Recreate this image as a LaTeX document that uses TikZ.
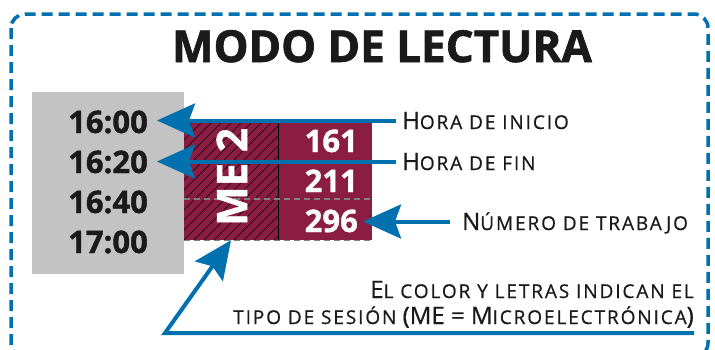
\documentclass[tikz,border=0pt]{standalone}
\usepackage{fontspec}
\setmainfont{Open Sans}
\usetikzlibrary{arrows.meta}
\definecolor{azul}{RGB}{0,112,174}
\definecolor{granate}{RGB}{139,28,66}
\definecolor{gris}{RGB}{195,195,195}
\definecolor{tinta}{RGB}{26,26,26}
\newcommand\pc[1]{{\fontsize{19pt}{19pt}\selectfont\addfontfeature{LetterSpace=10}#1}}
\begin{document}
\begin{tikzpicture}[x=1pt,y=-1pt,
  flecha/.style={draw=azul,line width=4pt,-{Stealth[length=38pt,width=34pt,inset=6pt]}},
  hora/.style={anchor=base east,font=\fontsize{31pt}{31pt}\selectfont\bfseries\addfontfeature{FakeBold=1.2},
    text=tinta,inner xsep=9pt,inner ysep=0pt,text height=22pt,text depth=0pt},
  numero/.style={hora,inner xsep=5pt,text=white},
  rotulo/.style={font=\fontsize{24pt}{24pt}\selectfont\addfontfeature{FakeBold=0.7},text=tinta,
    inner sep=0pt,text height=17pt,text depth=0pt},
  bloque/.style={fill=granate,minimum width=94pt,minimum height=117pt,inner sep=0pt},
  corte/.style={draw=gray,line width=1.2pt,dash pattern=on 6pt off 4pt}]
  \clip (0,0) rectangle (715,349);
  \draw[azul,line width=3.5pt,dash pattern=on 11pt off 6pt,rounded corners=14pt]
    (11,14) rectangle (708,357);
  \node[anchor=base,font=\fontsize{44pt}{44pt}\selectfont\bfseries\addfontfeature{FakeBold=1.5},
    text=tinta] (titulo) at (382,62) {MODO DE LECTURA};
  % horario
  \node[fill=gris,minimum width=152pt,minimum height=182pt] (horario) at (108,183) {};
  \foreach \t [count=\i] in {16:00,16:20,16:40,17:00}
    \node[hora] (h\i) at (157,93+40*\i) {\t};
  % bloque de la sesion
  \node[bloque,path picture={
      \foreach \k in {-12,...,10}
        \draw[line width=0.6pt] ([xshift=\k*10pt]path picture bounding box.south west) -- ++(130pt,130pt);
    }] (sesion) at (231,181.5) {};
  \node[bloque] (trabajos) at (325,181.5) {};
  \draw[line width=1.2pt] (sesion.north east) -- (sesion.south east);
  \draw[corte] (184,199) -- (372,199);
  \draw[corte] (sesion.south west) -- (trabajos.south east);
  \node[rotate=90,font=\fontsize{42pt}{42pt}\selectfont\bfseries\addfontfeature{FakeBold=1.2},
    text=white,inner sep=0pt,text height=30pt,text depth=0pt] (me) at (232,177) {ME 2};
  \foreach \n [count=\i] in {161,211,296}
    \node[numero] (n\i) at (363,112+40*\i) {\n};
  % rotulos
  \node[rotulo,anchor=base west] (inicio) at (402,129) {H\pc{ORA DE INICIO}};
  \node[rotulo,anchor=base west] (fin) at (402,170) {H\pc{ORA DE FIN}};
  \node[rotulo,anchor=base west] (trabajo) at (462,230) {N\pc{ÚMERO DE TRABAJO}};
  \node[rotulo,anchor=base east] (color) at (694,298) {E\pc{L COLOR Y LETRAS INDICAN EL}};
  \node[rotulo,anchor=base east] (tipo) at (694,324)
    {\pc{TIPO DE SESIÓN} (ME = M\pc{ICROELECTRÓNICA})};
  % flechas
  \draw[flecha,shorten <=6pt] (inicio.west) -- (inicio.west -| h1.east);
  \draw[flecha,shorten <=6pt] (fin.west) -- (fin.west -| h2.east);
  \draw[flecha,shorten <=12pt] (trabajo.west) -- (trabajo.west -| n3.east);
  \coordinate (subraya) at ([yshift=-9pt]tipo.base east);
  \coordinate (codo) at (165,333);
  \draw[flecha] (subraya) -- (codo) -- (sesion.south);
\end{tikzpicture}
\end{document}
